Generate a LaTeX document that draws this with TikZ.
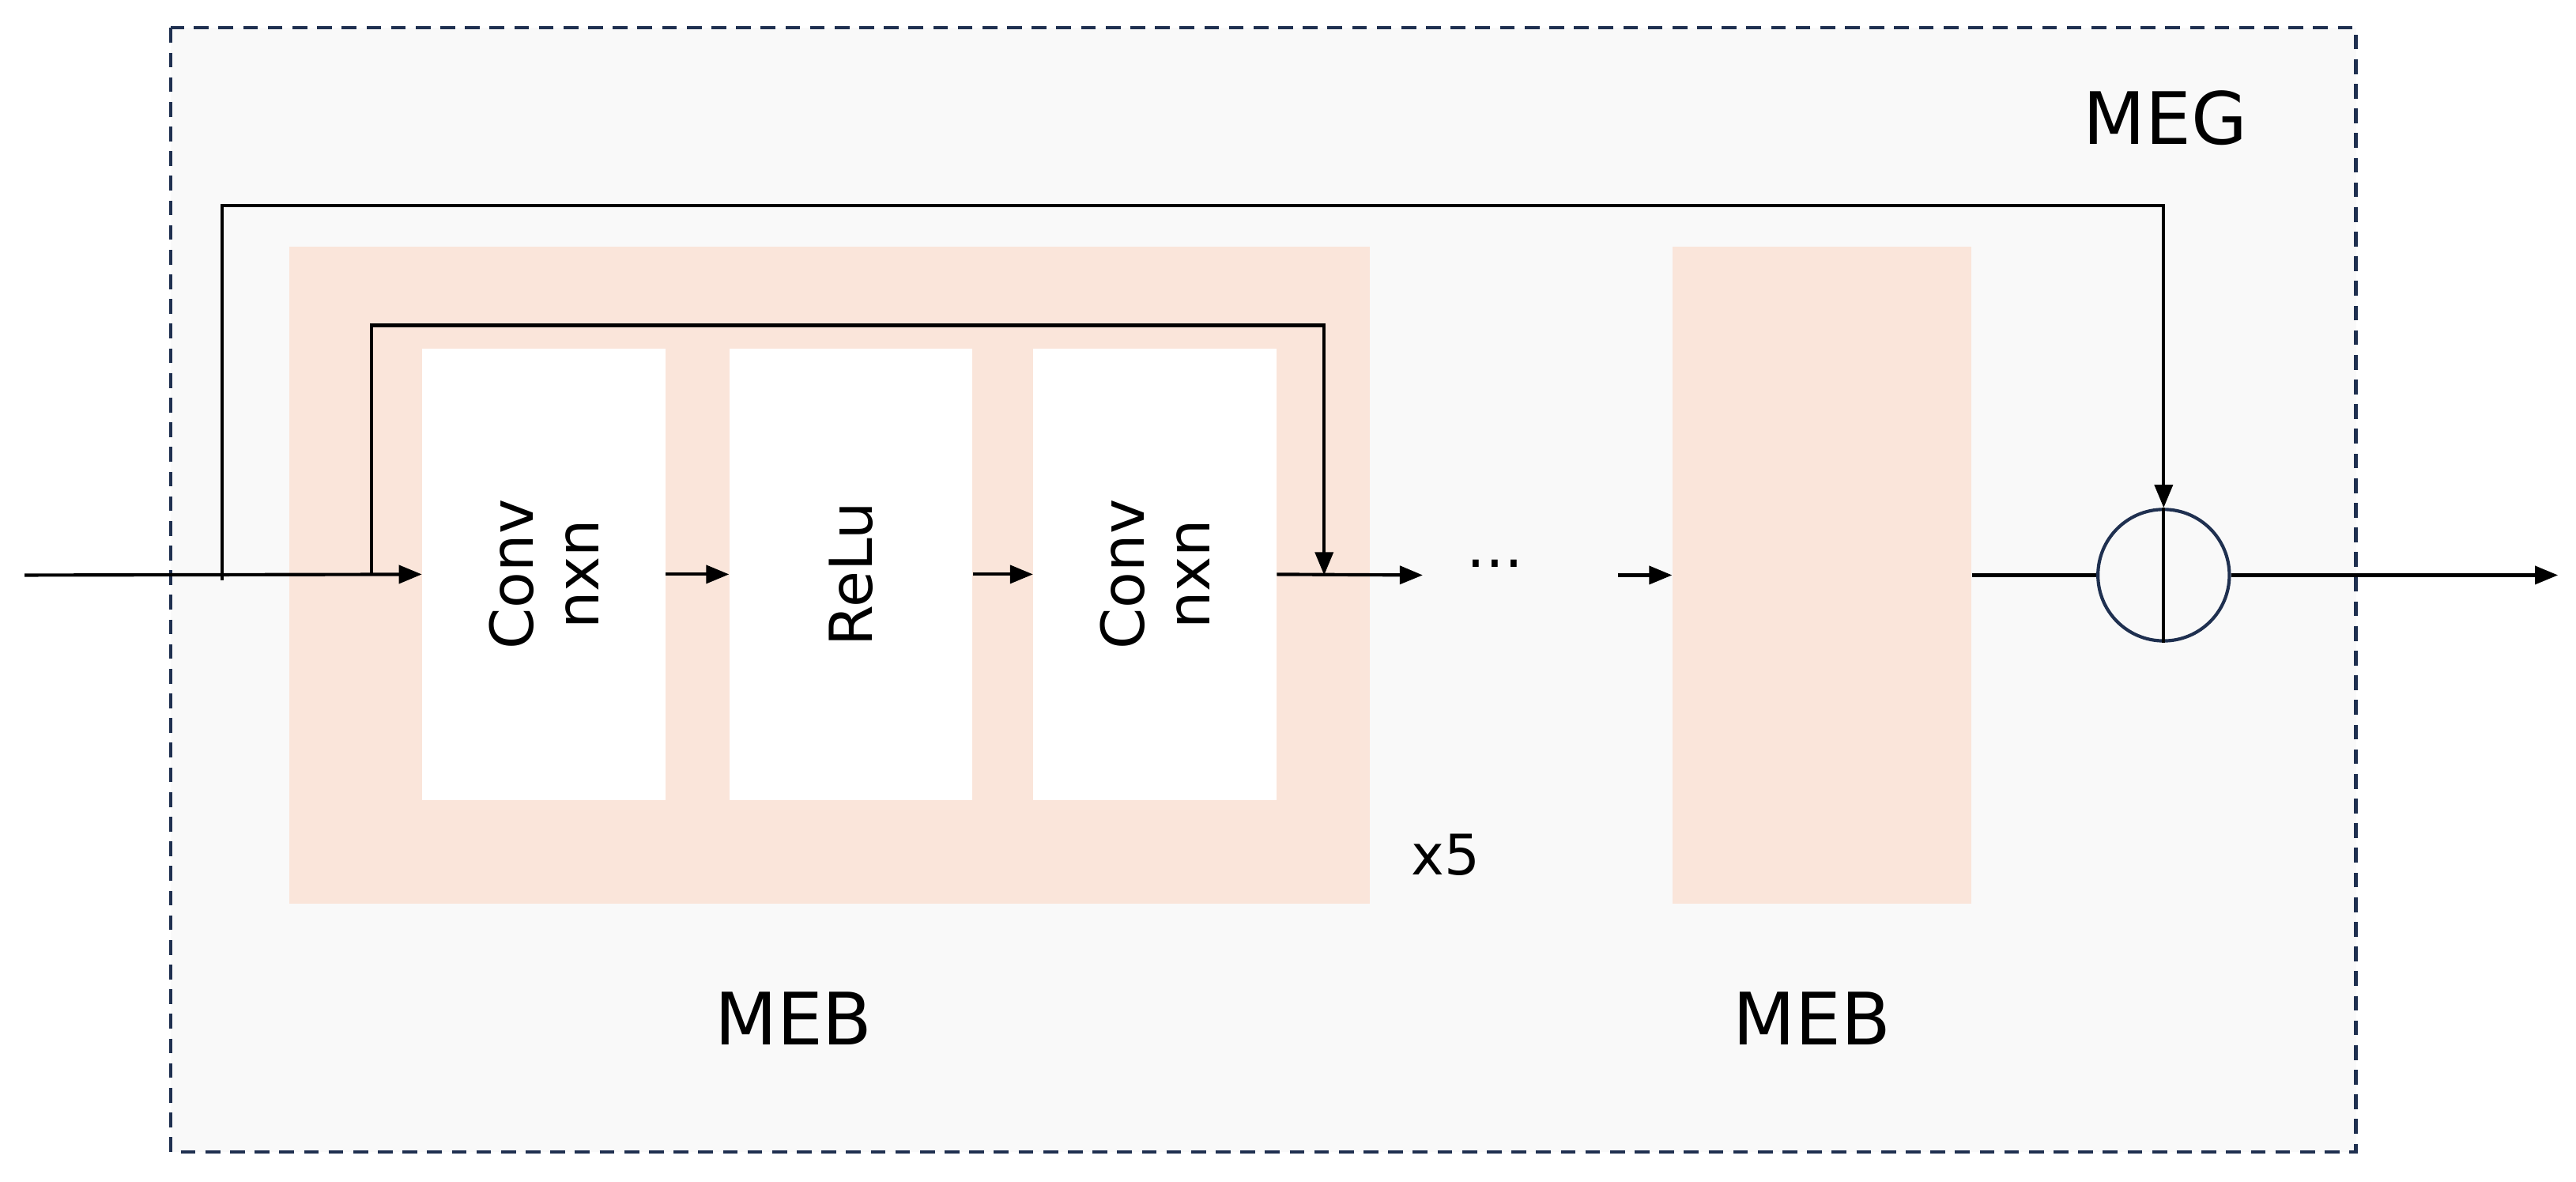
\documentclass[tikz,border=0pt]{standalone}
\usepackage{fontspec}
\setmainfont{DejaVu Sans}
\usetikzlibrary{arrows.meta}
\definecolor{navy}{HTML}{1F3050}
\definecolor{meb}{HTML}{FAE5DA}
\definecolor{bg}{HTML}{F9F9F9}
\begin{document}
\begin{tikzpicture}[x=1pt,y=-1pt,
  conn/.style={line width=2pt,-{Triangle[length=14pt,width=11pt]}},
  ln/.style={line width=2pt},
  blk/.style={fill=white,draw=none},
  lbl/.style={font=\fontsize{44}{46}\selectfont},
  inl/.style={font=\fontsize{36}{40}\selectfont,rotate=90,align=center}]
\useasboundingbox (0,0) rectangle (1568,719);
\fill[bg] (104,17) rectangle (1434,701);
\draw[navy,line width=2pt,dash pattern=on 9pt off 6pt] (104,17) rectangle (1434,701);
\node[lbl] (meg) at (1318,72) {MEG};
\fill[meb] (176,150) rectangle (834,550);
\fill[meb] (1018,150) rectangle (1200,550);
\node[blk,minimum width=148pt,minimum height=275pt] (c1) at (331,349.5) {};
\node[blk,minimum width=148pt,minimum height=275pt] (r1) at (518,349.5) {};
\node[blk,minimum width=148pt,minimum height=275pt] (c2) at (703,349.5) {};
\node[inl] at (c1) {Conv\\nxn};
\node[inl] at (r1) {ReLu};
\node[inl] at (c2) {Conv\\nxn};
\node[minimum width=182pt,minimum height=400pt] (m2) at (1109,350) {};
\node[lbl] at (483,620) {MEB};
\node[lbl] at (1103,620) {MEB};
\node[font=\fontsize{34}{36}\selectfont] at (880,520) {x5};
\node[font=\fontsize{36}{36}\selectfont] (dots) at (910,343) {...};
\node[circle,draw=navy,line width=2pt,minimum size=80pt,inner sep=0] (plus) at (1317,350) {};
\coordinate (in) at (15,350);
\coordinate (o1) at (135,353);
\coordinate (i1) at (226,350);
\coordinate (out) at (1557,350);
\coordinate (d1) at (866,350);
\coordinate (d2) at (985,350);
\draw[conn] (in) -- (c1.west);
\draw[conn] (c1.east) -- (r1.west);
\draw[conn] (r1.east) -- (c2.west);
\draw[conn] (c2.east) -- (d1);
\draw[conn] (d2) -- (m2.west);
\draw[ln] (m2.east) -- (plus.west);
\draw[conn] (plus.east) -- (out);
\draw[ln] (plus.north) -- (plus.south);
\draw[conn] (o1) -- (135,125) -- (1317,125) -- (plus.north);
\draw[conn] (i1) -- (226,198) -- (806,198) -- (806,350);
\end{tikzpicture}
\end{document}
